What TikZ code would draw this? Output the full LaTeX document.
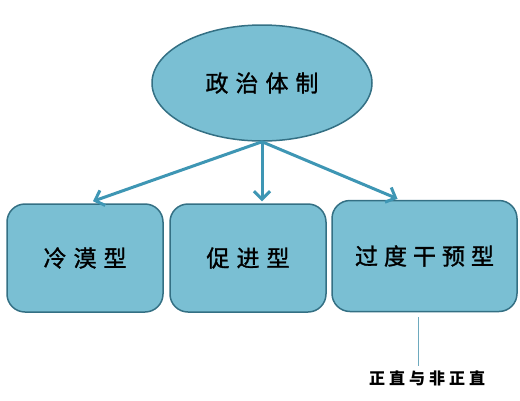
\documentclass[tikz,border=0pt]{standalone}
\usepackage{fontspec}
\newfontfamily\cjk{Noto Sans CJK SC}
\newfontfamily\cjkm[FakeBold=1.2]{Noto Sans CJK SC}
\usetikzlibrary{shapes.geometric,arrows.meta,calc}
\definecolor{fillc}{RGB}{122,191,211}
\definecolor{edgec}{RGB}{52,112,132}
\definecolor{arrc}{RGB}{62,150,180}
\definecolor{linec}{RGB}{110,170,190}
\tikzset{
  shapebox/.style={draw=edgec, line width=1.5pt, fill=fillc, rounded corners=18pt, inner sep=0pt},
  arr/.style={draw=arrc, line width=3pt, -{Straight Barb[length=8pt,width=16pt,line width=3pt]}},
  lbl/.style={font=\cjkm\fontsize{23}{23}\selectfont, text=black},
}
\begin{document}
\begin{tikzpicture}[x=1pt,y=-1pt]
\useasboundingbox (0,0) rectangle (520,400);
\node[shapebox, ellipse, rounded corners=0pt, minimum width=220pt, minimum height=116pt, lbl] (top) at (262,83) {政\hspace{7pt}治\hspace{7pt}体\hspace{7pt}制};
\node[shapebox, minimum width=156pt, minimum height=108pt, lbl] (b1) at (85,258) {冷\hspace{7pt}漠\hspace{7pt}型};
\node[shapebox, minimum width=156pt, minimum height=108pt, lbl] (b2) at (248,258) {促\hspace{7pt}进\hspace{7pt}型};
\node[shapebox, minimum width=185pt, minimum height=111pt, lbl] (b3) at (424.5,256) {过\hspace{6pt}度\hspace{6pt}干\hspace{6pt}预\hspace{6pt}型};
\node[font=\cjk\bfseries\fontsize{16}{16}\selectfont, inner sep=1pt] (note) at (427,378) {正\hspace{4pt}直\hspace{4pt}与\hspace{4pt}非\hspace{4pt}正\hspace{4pt}直};
\draw[arr] (top.south) -- ($(b1.north)+(8,-2)$);
\draw[arr] (top.south) -- ($(b2.north)+(14,-2)$);
\draw[arr] (top.south) -- ($(b3.north)+(-27,-1)$);
\draw[linec, line width=1pt] ($(b3.south)+(-6.5,5)$) -- ($(note.north)+(-9,-3)$);
\end{tikzpicture}
\end{document}
